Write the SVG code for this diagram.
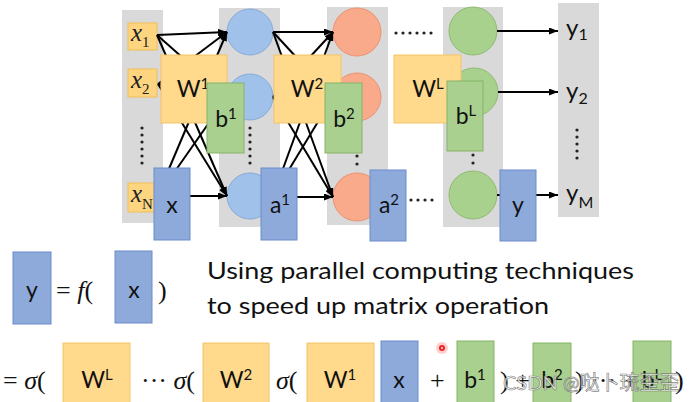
<svg xmlns="http://www.w3.org/2000/svg" width="690" height="402" viewBox="0 0 690 402">
<defs>
<marker id="ah" viewBox="0 0 9 7" refX="9" refY="3.5" markerWidth="9" markerHeight="7" markerUnits="userSpaceOnUse" orient="auto">
<path d="M0,0 L9,3.5 L0,7 z" fill="#000"/>
</marker>
<style>
.col{fill:#d9d9d9}
.blue{fill:#a0c2ea;stroke:#86a9d8;stroke-width:1}
.orng{fill:#f8aa8b;stroke:#eb9373;stroke-width:1}
.grn{fill:#a9d18e;stroke:#8fbb73;stroke-width:1}
.inb{fill:#fdd580;stroke:#f2bd55;stroke-width:1}
.wbox{fill:#ffd98c;stroke:#f4c36a;stroke-width:1}
.bbox{fill:#a9d08e;stroke:#86b46b;stroke-width:1}
.xbox{fill:#8eaadb;stroke:#6c8bcb;stroke-width:1}
.lbl{font-family:Lato,"Open Sans","Liberation Sans",sans-serif;font-size:23px;fill:#111;text-anchor:middle}
.sup{font-size:15px}
.ix{font-family:"Liberation Serif",serif;font-style:italic;font-size:25px;fill:#222}
.isub{font-family:"Liberation Serif",serif;font-style:normal;font-size:15px}
.yl{font-family:Lato,"Open Sans","Liberation Sans",sans-serif;font-size:24px;fill:#111}
.ysub{font-size:16px}
.math{font-family:"Liberation Serif",serif;font-size:26px;fill:#111}
.it{font-style:italic}
.txt{font-family:Lato,"Open Sans","Liberation Sans",sans-serif;font-size:23px;fill:#111}
.conn line{stroke:#000;stroke-width:2;marker-end:url(#ah)}
.dots{stroke:#222;stroke-width:3.2;stroke-linecap:round;fill:none}
</style>
</defs>
<rect width="690" height="402" fill="#fff"/>

<!-- gray columns -->
<rect class="col" x="122" y="10" width="41" height="213"/>
<rect class="col" x="219" y="8" width="61" height="219"/>
<rect class="col" x="327" y="7" width="61" height="218"/>
<rect class="col" x="443" y="7" width="60" height="220"/>
<rect class="col" x="558" y="3" width="41" height="214"/>

<!-- input nodes -->
<g id="x1"><rect class="inb" x="128" y="23" width="29" height="27"/><text class="ix" x="131" y="41">x<tspan class="isub" dy="6">1</tspan></text></g>
<g id="x2"><rect class="inb" x="128" y="69" width="29" height="28"/><text class="ix" x="131" y="88">x<tspan class="isub" dy="6">2</tspan></text></g>
<g id="xN"><rect class="inb" x="128" y="183" width="29" height="29"/><text class="ix" x="131" y="202">x<tspan class="isub" dy="7">N</tspan></text></g>

<!-- hidden layer 1 -->
<g id="h1_1"><circle class="blue" cx="250" cy="32" r="23"/></g>
<g id="h1_2"><circle class="blue" cx="250" cy="97" r="23"/></g>
<g id="h1_3"><circle class="blue" cx="250" cy="196" r="23"/></g>
<!-- hidden layer 2 -->
<g id="h2_1"><circle class="orng" cx="357" cy="32" r="24"/></g>
<g id="h2_2"><circle class="orng" cx="357" cy="97" r="24"/></g>
<g id="h2_3"><circle class="orng" cx="357" cy="197" r="24"/></g>
<!-- layer L -->
<g id="hL_1"><circle class="grn" cx="473" cy="31" r="24"/></g>
<g id="hL_2"><circle class="grn" cx="474" cy="92" r="24"/></g>
<g id="hL_3"><circle class="grn" cx="473" cy="195" r="24"/></g>

<!-- outputs -->
<g id="y1"><text class="yl" x="566" y="36">y<tspan class="ysub" dy="4">1</tspan></text></g>
<g id="y2"><text class="yl" x="566" y="99">y<tspan class="ysub" dy="5">2</tspan></text></g>
<g id="yM"><text class="yl" x="566" y="201">y<tspan class="ysub" dy="7">M</tspan></text></g>

<!-- connectors -->
<g id="connectors" class="conn">
<line x1="157" y1="35" x2="227" y2="32"/>
<line x1="157" y1="35" x2="227" y2="97"/>
<line x1="157" y1="35" x2="227" y2="196"/>
<line x1="158" y1="84" x2="227" y2="32"/>
<line x1="158" y1="84" x2="227" y2="97"/>
<line x1="158" y1="84" x2="227" y2="196"/>
<line x1="157" y1="197" x2="227" y2="32"/>
<line x1="157" y1="197" x2="227" y2="97"/>
<line x1="157" y1="196" x2="227" y2="196"/>
<line x1="273" y1="32" x2="333" y2="32"/>
<line x1="273" y1="32" x2="333" y2="97"/>
<line x1="273" y1="32" x2="333" y2="197"/>
<line x1="273" y1="97" x2="333" y2="32"/>
<line x1="273" y1="97" x2="333" y2="97"/>
<line x1="273" y1="97" x2="333" y2="197"/>
<line x1="273" y1="196" x2="333" y2="32"/>
<line x1="273" y1="196" x2="333" y2="97"/>
<line x1="273" y1="197" x2="333" y2="197"/>
<line x1="497" y1="31" x2="558" y2="31"/>
<line x1="498" y1="92" x2="558" y2="92"/>
<line x1="497" y1="195" x2="558" y2="195"/>
</g>

<!-- ellipsis dots -->
<g id="ellipses" class="dots">
<path d="M142,128 V164" stroke-dasharray="0 7"/>
<path d="M250,128 V164" stroke-dasharray="0 7"/>
<path d="M357,156 V164.5" stroke-dasharray="0 8"/>
<path d="M473,155 V163.5" stroke-dasharray="0 8"/>
<path d="M577,130 V165" stroke-dasharray="0 7"/>
<path d="M396,33 H432" stroke-dasharray="0 7"/>
<path d="M411,200 H433" stroke-dasharray="0 7"/>
</g>

<!-- matrices / vectors -->
<g id="W1"><rect class="wbox" x="161" y="55" width="66" height="68"/><text class="lbl" x="193" y="97">W<tspan class="sup" dy="-8">1</tspan></text></g>
<g id="b1"><rect class="bbox" x="207" y="83" width="37" height="70"/><text class="lbl" x="226" y="127">b<tspan class="sup" dy="-8">1</tspan></text></g>
<g id="x"><rect class="xbox" x="154" y="168" width="36" height="72"/><text class="lbl" x="172" y="213">x</text></g>
<g id="a1"><rect class="xbox" x="261" y="168" width="36" height="72"/><text class="lbl" x="280" y="213">a<tspan class="sup" dy="-8">1</tspan></text></g>
<g id="W2"><rect class="wbox" x="274" y="55" width="67" height="68"/><text class="lbl" x="307" y="97">W<tspan class="sup" dy="-8">2</tspan></text></g>
<g id="b2"><rect class="bbox" x="325" y="83" width="37" height="70"/><text class="lbl" x="344" y="127">b<tspan class="sup" dy="-8">2</tspan></text></g>
<g id="a2"><rect class="xbox" x="370" y="170" width="36" height="71"/><text class="lbl" x="389" y="213">a<tspan class="sup" dy="-8">2</tspan></text></g>
<g id="WL"><rect class="wbox" x="394" y="55" width="67" height="68"/><text class="lbl" x="428" y="97">W<tspan class="sup" dy="-8">L</tspan></text></g>
<g id="bL"><rect class="bbox" x="447" y="81" width="36" height="70"/><text class="lbl" x="466" y="124">b<tspan class="sup" dy="-8">L</tspan></text></g>
<g id="y"><rect class="xbox" x="500" y="170" width="36" height="71"/><text class="lbl" x="518" y="213">y</text></g>

<!-- equation y = f(x) -->
<g id="eq1">
<rect class="xbox" x="13" y="252" width="38" height="72"/><text class="lbl" x="32" y="298">y</text>
<text class="math" x="56" y="299">= <tspan class="it">f</tspan>(</text>
<rect class="xbox" x="115" y="251" width="37" height="72"/><text class="lbl" x="134" y="298">x</text>
<text class="math" x="158" y="299">)</text>
</g>
<text class="txt" x="207" y="279" textLength="427" lengthAdjust="spacingAndGlyphs">Using parallel computing techniques</text>
<text class="txt" x="207" y="314" textLength="342" lengthAdjust="spacingAndGlyphs">to speed up matrix operation</text>

<!-- equation expanded -->
<g id="eq2">
<text class="math" x="3" y="389">= <tspan class="it">σ</tspan>(</text>
<rect class="wbox" x="63" y="343" width="67" height="64"/><text class="lbl" x="97" y="388">W<tspan class="sup" dy="-8">L</tspan></text>
<text class="math" x="141" y="389">··· <tspan class="it">σ</tspan>(</text>
<rect class="wbox" x="203" y="343" width="66" height="64"/><text class="lbl" x="236" y="388">W<tspan class="sup" dy="-8">2</tspan></text>
<text class="math" x="276" y="389"><tspan class="it">σ</tspan>(</text>
<rect class="wbox" x="307" y="343" width="67" height="64"/><text class="lbl" x="340" y="388">W<tspan class="sup" dy="-8">1</tspan></text>
<rect class="xbox" x="381" y="341" width="37" height="66"/><text class="lbl" x="399" y="388">x</text>
<text class="math" x="430" y="389">+</text>
<rect class="bbox" x="457" y="341" width="37" height="66"/><text class="lbl" x="475" y="388">b<tspan class="sup" dy="-8">1</tspan></text>
<text class="math" x="500" y="389">) +</text>
<rect class="bbox" x="533" y="343" width="38" height="64"/><text class="lbl" x="552" y="388">b<tspan class="sup" dy="-8">2</tspan></text>
<text class="math" x="575" y="389">) ··· +</text>
<rect class="bbox" x="633" y="341" width="38" height="66"/><text class="lbl" x="652" y="388">b<tspan class="sup" dy="-8">L</tspan></text>
<text class="math" x="675" y="389">)</text>
</g>

<!-- pointer dot -->
<circle cx="442" cy="348" r="6" fill="#ff4040" opacity="0.25"/>
<circle cx="442" cy="348" r="3" fill="#e82020"/>
<circle cx="442" cy="348" r="1.2" fill="#ffb0b0"/>

<!-- watermark -->
<text x="503" y="390" font-family="Lato,'Noto Sans CJK SC',sans-serif" font-size="20" fill="#ffffff" fill-opacity="0.75" stroke="#666" stroke-width="0.7" stroke-opacity="0.8">CSDN @哒卜琉歪歪</text>
</svg>
